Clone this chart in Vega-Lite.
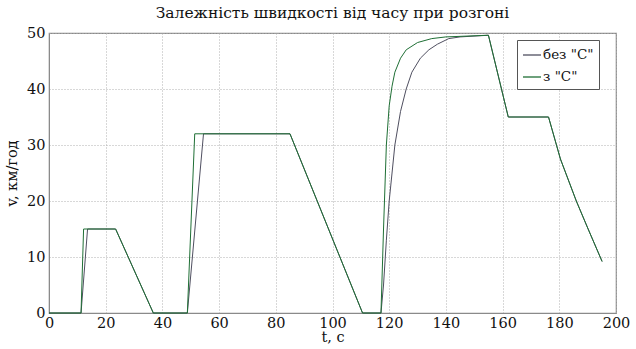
{
  "$schema": "https://vega.github.io/schema/vega-lite/v6.json",
  "width": 567,
  "height": 280,
  "autosize": {"type": "none"},
  "padding": {"left": 49, "top": 33, "right": 20, "bottom": 36},
  "background": "white",
  "title": {
    "text": "Залежність швидкості від часу при розгоні",
    "font": "DejaVu Serif",
    "fontSize": 15.5,
    "fontWeight": "normal",
    "color": "#111",
    "anchor": "middle",
    "offset": 4
  },
  "config": {
    "view": {"stroke": "#8a8a8a", "strokeWidth": 1.2},
    "axis": {
      "labelFont": "DejaVu Serif",
      "titleFont": "DejaVu Serif",
      "labelFontSize": 14.5,
      "titleFontSize": 14.5,
      "titleFontWeight": "normal",
      "labelColor": "#111",
      "titleColor": "#111",
      "gridColor": "#b0b0b0",
      "gridDash": [1, 2],
      "gridWidth": 1,
      "domainColor": "#8a8a8a",
      "ticks": false
    }
  },
  "data": {
    "values": [
      {"t": 0, "v": 0, "s": "без \"C\""},
      {"t": 11.3, "v": 0, "s": "без \"C\""},
      {"t": 13.6, "v": 15, "s": "без \"C\""},
      {"t": 23.5, "v": 15, "s": "без \"C\""},
      {"t": 36.8, "v": 0, "s": "без \"C\""},
      {"t": 48.8, "v": 0, "s": "без \"C\""},
      {"t": 54.5, "v": 32, "s": "без \"C\""},
      {"t": 85, "v": 32, "s": "без \"C\""},
      {"t": 110.6, "v": 0, "s": "без \"C\""},
      {"t": 117.1, "v": 0, "s": "без \"C\""},
      {"t": 118, "v": 5, "s": "без \"C\""},
      {"t": 119, "v": 13, "s": "без \"C\""},
      {"t": 120, "v": 20, "s": "без \"C\""},
      {"t": 121, "v": 25, "s": "без \"C\""},
      {"t": 122, "v": 30, "s": "без \"C\""},
      {"t": 124, "v": 36, "s": "без \"C\""},
      {"t": 126, "v": 40, "s": "без \"C\""},
      {"t": 128, "v": 43, "s": "без \"C\""},
      {"t": 131, "v": 45.5, "s": "без \"C\""},
      {"t": 134, "v": 47, "s": "без \"C\""},
      {"t": 137, "v": 48, "s": "без \"C\""},
      {"t": 141, "v": 49, "s": "без \"C\""},
      {"t": 145, "v": 49.3, "s": "без \"C\""},
      {"t": 155, "v": 49.6, "s": "без \"C\""},
      {"t": 162, "v": 35, "s": "без \"C\""},
      {"t": 176.2, "v": 35, "s": "без \"C\""},
      {"t": 180.4, "v": 27.5, "s": "без \"C\""},
      {"t": 186, "v": 20, "s": "без \"C\""},
      {"t": 190, "v": 15.2, "s": "без \"C\""},
      {"t": 195.1, "v": 9.2, "s": "без \"C\""},
      {"t": 0, "v": 0, "s": "з \"C\""},
      {"t": 11.3, "v": 0, "s": "з \"C\""},
      {"t": 12.2, "v": 15, "s": "з \"C\""},
      {"t": 23.5, "v": 15, "s": "з \"C\""},
      {"t": 36.8, "v": 0, "s": "з \"C\""},
      {"t": 48.8, "v": 0, "s": "з \"C\""},
      {"t": 51.4, "v": 32, "s": "з \"C\""},
      {"t": 85, "v": 32, "s": "з \"C\""},
      {"t": 110.6, "v": 0, "s": "з \"C\""},
      {"t": 117.1, "v": 0, "s": "з \"C\""},
      {"t": 118, "v": 15, "s": "з \"C\""},
      {"t": 119, "v": 30, "s": "з \"C\""},
      {"t": 120, "v": 37, "s": "з \"C\""},
      {"t": 121, "v": 40.5, "s": "з \"C\""},
      {"t": 122, "v": 43, "s": "з \"C\""},
      {"t": 124, "v": 45.5, "s": "з \"C\""},
      {"t": 126, "v": 47, "s": "з \"C\""},
      {"t": 130, "v": 48.3, "s": "з \"C\""},
      {"t": 135, "v": 49, "s": "з \"C\""},
      {"t": 140, "v": 49.3, "s": "з \"C\""},
      {"t": 155, "v": 49.6, "s": "з \"C\""},
      {"t": 162, "v": 35, "s": "з \"C\""},
      {"t": 176.2, "v": 35, "s": "з \"C\""},
      {"t": 180.4, "v": 27.5, "s": "з \"C\""},
      {"t": 186, "v": 20, "s": "з \"C\""},
      {"t": 190, "v": 15.2, "s": "з \"C\""},
      {"t": 195.1, "v": 9.2, "s": "з \"C\""}
    ]
  },
  "mark": {"type": "line", "strokeWidth": 1, "interpolate": "linear"},
  "encoding": {
    "x": {
      "field": "t",
      "type": "quantitative",
      "scale": {"domain": [0, 200], "nice": false},
      "axis": {"values": [0, 20, 40, 60, 80, 100, 120, 140, 160, 180, 200], "title": "t, c", "labelPadding": 3, "titlePadding": 1, "labelFlush": false}
    },
    "y": {
      "field": "v",
      "type": "quantitative",
      "scale": {"domain": [0, 50], "nice": false},
      "axis": {"values": [0, 10, 20, 30, 40, 50], "title": "v, км/год", "labelPadding": 4, "titlePadding": 7, "labelFlush": false}
    },
    "color": {
      "field": "s",
      "type": "nominal",
      "scale": {"domain": ["без \"C\"", "з \"C\""], "range": ["#4f4f60", "#1f6f35"]},
      "legend": {
        "title": null,
        "orient": "none",
        "legendX": 468,
        "legendY": 7,
        "direction": "vertical",
        "symbolType": "stroke",
        "symbolSize": 324,
        "symbolStrokeWidth": 1.3,
        "labelFont": "DejaVu Serif",
        "labelFontSize": 13.5,
        "labelColor": "#111",
        "strokeColor": "#555",
        "fillColor": "white",
        "padding": 5,
        "rowPadding": 5,
        "labelOffset": 1
      }
    },
    "order": {"field": "t", "type": "quantitative"}
  }
}
